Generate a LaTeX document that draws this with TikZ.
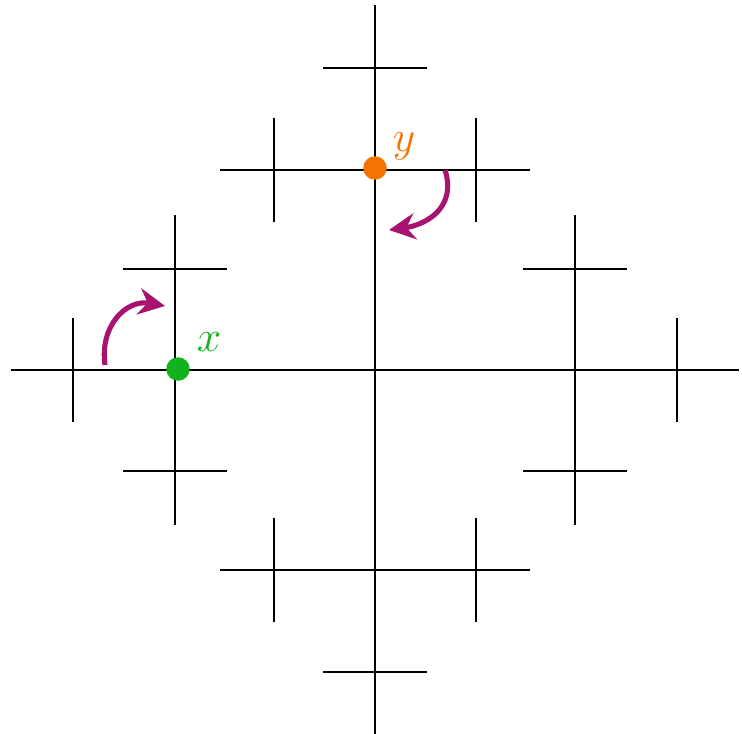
\documentclass[tikz,border=0pt]{standalone}
\usetikzlibrary{arrows.meta}
\definecolor{ptgreen}{RGB}{18,178,30}
\definecolor{ptorange}{RGB}{245,115,0}
\definecolor{turnmag}{RGB}{168,18,112}
\tikzset{
	dot/.style={circle, inner sep=0pt, minimum size=0.47cm},
	lab/.style={font=\fontsize{34}{36}\selectfont, inner sep=0pt},
	turn/.style={draw=turnmag, line width=2.9pt, looseness=1.2, -{Stealth[length=15pt, width=15pt, inset=5pt]}}
}
\begin{document}
\begin{tikzpicture}[x=2cm, y=2cm, line width=1.6pt, line join=round]
	\useasboundingbox (-3.75,-3.63) rectangle (3.67,3.70);
	\coordinate (c) at (0,0);
	\draw (-3.64,0)--(3.64,0);
	\draw (0,-3.64)--(0,3.65);
	\foreach \a in {0,90,180,270}{
		\begin{scope}[rotate=\a]
			\draw (2,-1.55)--(2,1.55);
			\draw (3.02,-0.52)--(3.02,0.52);
			\draw (1.48,1.01)--(2.52,1.01);
			\draw (1.48,-1.01)--(2.52,-1.01);
		\end{scope}
	}
	\node[dot, fill=ptgreen] (x) at (-1.97,0.01) {};
	\node[dot, fill=ptorange] (y) at (0,2.02) {};
	\node[lab, text=ptgreen] (xlab) at ([shift={(0.31,0.27)}]x) {$x$};
	\node[lab, text=ptorange] (ylab) at ([shift={(0.29,0.22)}]y) {$y$};
	\coordinate (xs) at (-2.70,0.05);
	\coordinate (xe) at (-2.10,0.64);
	\coordinate (ys) at (0.70,2.00);
	\coordinate (ye) at (0.14,1.40);
	\draw[turn] (xs) to[out=98, in=170] (xe);
	\draw[turn] (ys) to[out=-72, in=8] (ye);
\end{tikzpicture}
\end{document}
